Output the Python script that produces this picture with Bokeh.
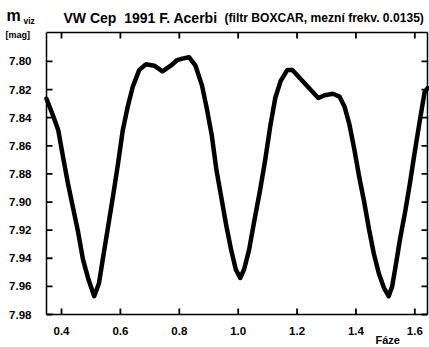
from bokeh.plotting import figure
from bokeh.models import (Range1d, FixedTicker, LinearAxis, Label, NumeralTickFormatter,
                          CustomLabelingPolicy)
from bokeh.embed import file_html
from bokeh.resources import INLINE

# Smoothed light curve of VW Cep (phase vs visual magnitude)
phase = [0.349, 0.372, 0.389, 0.406, 0.422, 0.439, 0.456, 0.473, 0.49, 0.511, 0.527, 0.54,
         0.557, 0.574, 0.591, 0.608, 0.625, 0.642, 0.664, 0.687, 0.715, 0.743, 0.771,
         0.793, 0.81, 0.833, 0.855, 0.877, 0.893, 0.91, 0.926, 0.943, 0.959, 0.976, 0.992,
         1.007, 1.02, 1.037, 1.056, 1.074, 1.091, 1.109, 1.126, 1.144, 1.167, 1.184, 1.21,
         1.25, 1.272, 1.294, 1.322, 1.344, 1.361, 1.378, 1.394, 1.411, 1.428, 1.444, 1.461,
         1.478, 1.495, 1.511, 1.523, 1.536, 1.55, 1.567, 1.583, 1.6, 1.617, 1.633, 1.643]
mag = [7.8265, 7.839, 7.849, 7.869, 7.887, 7.904, 7.921, 7.941, 7.954, 7.967, 7.958, 7.941,
       7.919, 7.897, 7.874, 7.849, 7.832, 7.818, 7.806, 7.802, 7.803, 7.807, 7.803,
       7.799, 7.798, 7.797, 7.803, 7.817, 7.833, 7.852, 7.877, 7.897, 7.916, 7.934, 7.948,
       7.954, 7.948, 7.934, 7.912, 7.892, 7.871, 7.846, 7.826, 7.814, 7.806, 7.806, 7.812,
       7.821, 7.826, 7.824, 7.823, 7.825, 7.832, 7.845, 7.862, 7.882, 7.900, 7.919, 7.937,
       7.951, 7.961, 7.967, 7.960, 7.944, 7.926, 7.907, 7.887, 7.864, 7.842, 7.822, 7.819]

x_ticks = [0.4, 0.6, 0.8, 1.0, 1.2, 1.4, 1.6]
y_ticks = [7.80, 7.82, 7.84, 7.86, 7.88, 7.90, 7.92, 7.94, 7.96, 7.98]

FONT = "Liberation Sans"
W, H = 429, 347
# plot box in data units and its pixel edges on the canvas
X0, X1 = 0.349, 1.643
Y_TOP, Y_BOTTOM = 7.7794, 7.98
LEFT, RIGHT, TOP, BOTTOM = 46, 427, 32, 314
TICK = 6  # inward tick length, px

sx = (X1 - X0) / (RIGHT - LEFT)      # data units per pixel
sy = (Y_BOTTOM - Y_TOP) / (BOTTOM - TOP)

# the frame covers the whole canvas; the box is drawn by four pinned axes
p = figure(width=W, height=H, output_backend="svg", toolbar_location=None,
           x_range=Range1d(X0 - LEFT * sx, X1 + (W - RIGHT) * sx),
           y_range=Range1d(Y_BOTTOM + (H - BOTTOM) * sy, Y_TOP - TOP * sy),
           min_border=0, x_axis_location=None, y_axis_location=None)
p.grid.visible = False
p.outline_line_color = None
p.background_fill_color = "white"
p.border_fill_color = "white"

no_labels = CustomLabelingPolicy(code="for (const i of Array.from(indices)) { indices.unset(i) }\nreturn indices")

def make_axis(ticks, fmt, loc, bounds, show_labels):
    ax = LinearAxis(ticker=FixedTicker(ticks=ticks), formatter=NumeralTickFormatter(format=fmt),
                    fixed_location=loc, bounds=bounds)
    ax.major_tick_in = 0
    ax.major_tick_out = 0
    ax.minor_tick_in = 0
    ax.minor_tick_out = 0
    ax.axis_line_color = "black"
    ax.axis_line_width = 1.5
    ax.major_label_text_font = FONT
    ax.major_label_text_font_style = "bold"
    ax.major_label_text_font_size = "11.5px"
    ax.major_label_text_color = "black"
    if not show_labels:
        ax.major_label_policy = no_labels
    return ax

bx = make_axis(x_ticks, "0.0", Y_BOTTOM, (X0, X1), True)
bx.major_label_standoff = 12
p.add_layout(bx, "below")
ly = make_axis(y_ticks, "0.00", X0, (Y_TOP, Y_BOTTOM), True)
ly.major_label_standoff = 15
p.add_layout(ly, "left")
p.add_layout(make_axis(x_ticks, "0.0", Y_TOP, (X0, X1), False), "above")
p.add_layout(make_axis(y_ticks, "0.00", X1, (Y_TOP, Y_BOTTOM), False), "right")

# inward tick marks on all four sides of the box
tick_style = dict(line_color="black", line_width=1.8)
p.segment(x_ticks, [Y_BOTTOM] * len(x_ticks), x_ticks, [Y_BOTTOM - TICK * sy] * len(x_ticks), **tick_style)
p.segment(x_ticks, [Y_TOP] * len(x_ticks), x_ticks, [Y_TOP + TICK * sy] * len(x_ticks), **tick_style)
p.segment([X0] * len(y_ticks), y_ticks, [X0 + TICK * sx] * len(y_ticks), y_ticks, **tick_style)
p.segment([X1] * len(y_ticks), y_ticks, [X1 - TICK * sx] * len(y_ticks), y_ticks, **tick_style)

p.line(phase, mag, line_color="black", line_width=4.5, line_join="round", line_cap="round")

def label(text, cx, cy, size):
    # cx, cy are canvas pixels (origin top-left); screen units start bottom-left
    p.add_layout(Label(x=cx, y=H - cy, x_units="screen", y_units="screen", text=text,
                       text_font=FONT, text_font_style="bold", text_font_size=size,
                       text_baseline="middle", text_align="left", text_color="black"))

label("VW Cep\u00a0 1991 F. Acerbi", 63, 17, "14px")
label("(filtr BOXCAR, mezní frekv. 0.0135)", 224, 17, "12.1px")
label("m", 6, 15, "16px")
label("viz", 23, 20, "8.5px")
label("[mag]", 5, 34, "9px")
label("Fáze", 375, 339, "11px")

open("out.html", "w").write(file_html(p, INLINE))
